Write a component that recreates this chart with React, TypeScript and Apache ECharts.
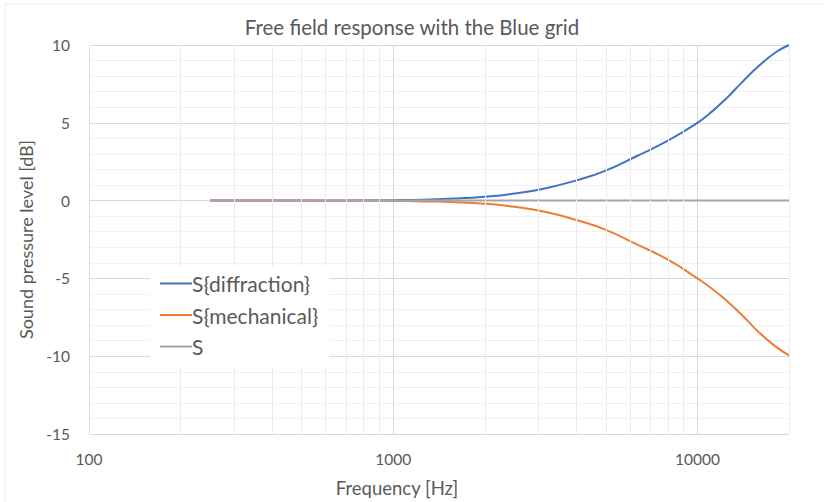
import React, { useEffect, useRef } from "react";
import * as echarts from "echarts";

const titleText = "Free field response with the Blue grid";
const xName = "Frequency [Hz]";
const yName = "Sound pressure level [dB]";

const freqs = [250, 315, 400, 500, 630, 800, 1000, 1250, 1600, 2000, 2500, 3150, 4000, 5000, 6300, 8000, 10000, 11200, 12500, 14000, 16000, 18000, 20000];
const sDiffraction = [0, 0, 0, 0.01, 0.01, 0.02, 0.03, 0.06, 0.13, 0.25, 0.45, 0.78, 1.3, 1.93, 2.85, 3.85, 5.0, 5.75, 6.6, 7.6, 8.7, 9.5, 10.0];
const sMechanical = [0, 0, 0, 0, -0.01, -0.01, -0.02, -0.05, -0.1, -0.2, -0.4, -0.72, -1.25, -1.88, -2.8, -3.8, -5.0, -5.68, -6.45, -7.35, -8.5, -9.35, -9.95];
const sTotal = [0, 0, 0, 0, 0, 0, 0, 0, 0, 0, 0, 0, 0, 0, 0, 0, 0, 0, 0, 0, 0, 0, 0];

const seriesNames = ["S{diffraction}", "S{mechanical}", "S"];
const seriesColors = ["#4472C4", "#ED7D31", "#A5A5A5"];

const minorFreqs = [200, 300, 400, 500, 600, 700, 800, 900, 2000, 3000, 4000, 5000, 6000, 7000, 8000, 9000, 20000];
const majorFreqs = [100, 1000, 10000];

const FONT = "Lato, 'Open Sans', sans-serif";
const TXT = "#595959";

export default function App() {
  const ref = useRef<HTMLDivElement>(null);
  useEffect(() => {
    document.body.style.margin = "0";
    const chart = echarts.init(ref.current!, null, { renderer: "svg" });
    const values = [sDiffraction, sMechanical, sTotal];
    const mainSeries = seriesNames.map((name, i) => ({
      name,
      type: "line",
      data: freqs.map((f, j) => [f, values[i][j]]),
      smooth: true,
      symbol: "none",
      z: 3,
      lineStyle: { color: seriesColors[i], width: 2 },
      itemStyle: { color: seriesColors[i] },
    }));
    chart.setOption({
      animation: false,
      backgroundColor: "#ffffff",
      textStyle: { fontFamily: FONT },
      title: {
        text: titleText,
        left: "center",
        top: 11,
        textStyle: { fontFamily: FONT, fontSize: 20.5, fontWeight: "normal", color: TXT },
      },
      graphic: [
        { type: "line", shape: { x1: 5, y1: 4, x2: 824, y2: 4 }, style: { stroke: "#EBEBEB", lineWidth: 1 }, silent: true },
        { type: "line", shape: { x1: 5, y1: 4, x2: 5, y2: 502 }, style: { stroke: "#EBEBEB", lineWidth: 1 }, silent: true },
      ],
      grid: { left: 89, right: 35, top: 45, bottom: 65, containLabel: false },
      legend: {
        orient: "vertical",
        left: 150,
        top: 267,
        backgroundColor: "#ffffff",
        padding: [6, 11, 10, 10],
        itemGap: 10.5,
        itemWidth: 32,
        itemHeight: 14,
        icon: "path://M0,6 L32,6 L32,8 L0,8 Z",
        data: seriesNames.map((n, i) => ({ name: n, itemStyle: { color: seriesColors[i] } })),
        textStyle: { fontFamily: FONT, fontSize: 21, color: TXT, padding: [0, 0, 0, -5] },
        z: 10,
      },
      xAxis: {
        type: "log",
        logBase: 10,
        min: 100,
        max: 20000,
        name: xName,
        nameLocation: "middle",
        nameGap: 44,
        nameTextStyle: { fontFamily: FONT, fontSize: 18.5, color: TXT, padding: [0, 84, 0, 0] },
        axisLine: { show: false },
        axisTick: { show: false },
        axisLabel: {
          margin: 17,
          fontFamily: FONT,
          fontSize: 15.5,
          color: TXT,
          formatter: (v: number) => (majorFreqs.some((m) => Math.abs(m - v) < 1e-6) ? String(Math.round(v)) : ""),
        },
        splitLine: { show: true, lineStyle: { color: ["#DDDDDD", "#D9D9D9", "#D9D9D9", "#EDEDED"], width: 1 } },
      },
      yAxis: {
        type: "value",
        min: -15,
        max: 10,
        interval: 5,
        name: yName,
        nameLocation: "middle",
        nameGap: 51,
        nameTextStyle: { fontFamily: FONT, fontSize: 18, color: TXT },
        axisLine: { show: false },
        axisTick: { show: false },
        axisLabel: { margin: 19, fontFamily: FONT, fontSize: 15.5, color: TXT },
        splitLine: { show: true, lineStyle: { color: "#D9D9D9", width: 1 } },
        minorTick: { show: false, splitNumber: 5 },
        minorSplitLine: { show: true, lineStyle: { color: "#F2F2F2", width: 1 } },
      },
      series: [
        {
          name: "minor-grid",
          type: "line",
          data: [],
          silent: true,
          z: 1,
          markLine: {
            silent: true,
            symbol: ["none", "none"],
            label: { show: false },
            lineStyle: { color: "#EDEDED", width: 1, type: "solid" },
            data: minorFreqs.map((f) => ({ xAxis: f })),
          },
        },
        ...mainSeries,
      ],
    });
    return () => chart.dispose();
  }, []);
  return <div ref={ref} style={{ width: 824, height: 502 }} />;
}
